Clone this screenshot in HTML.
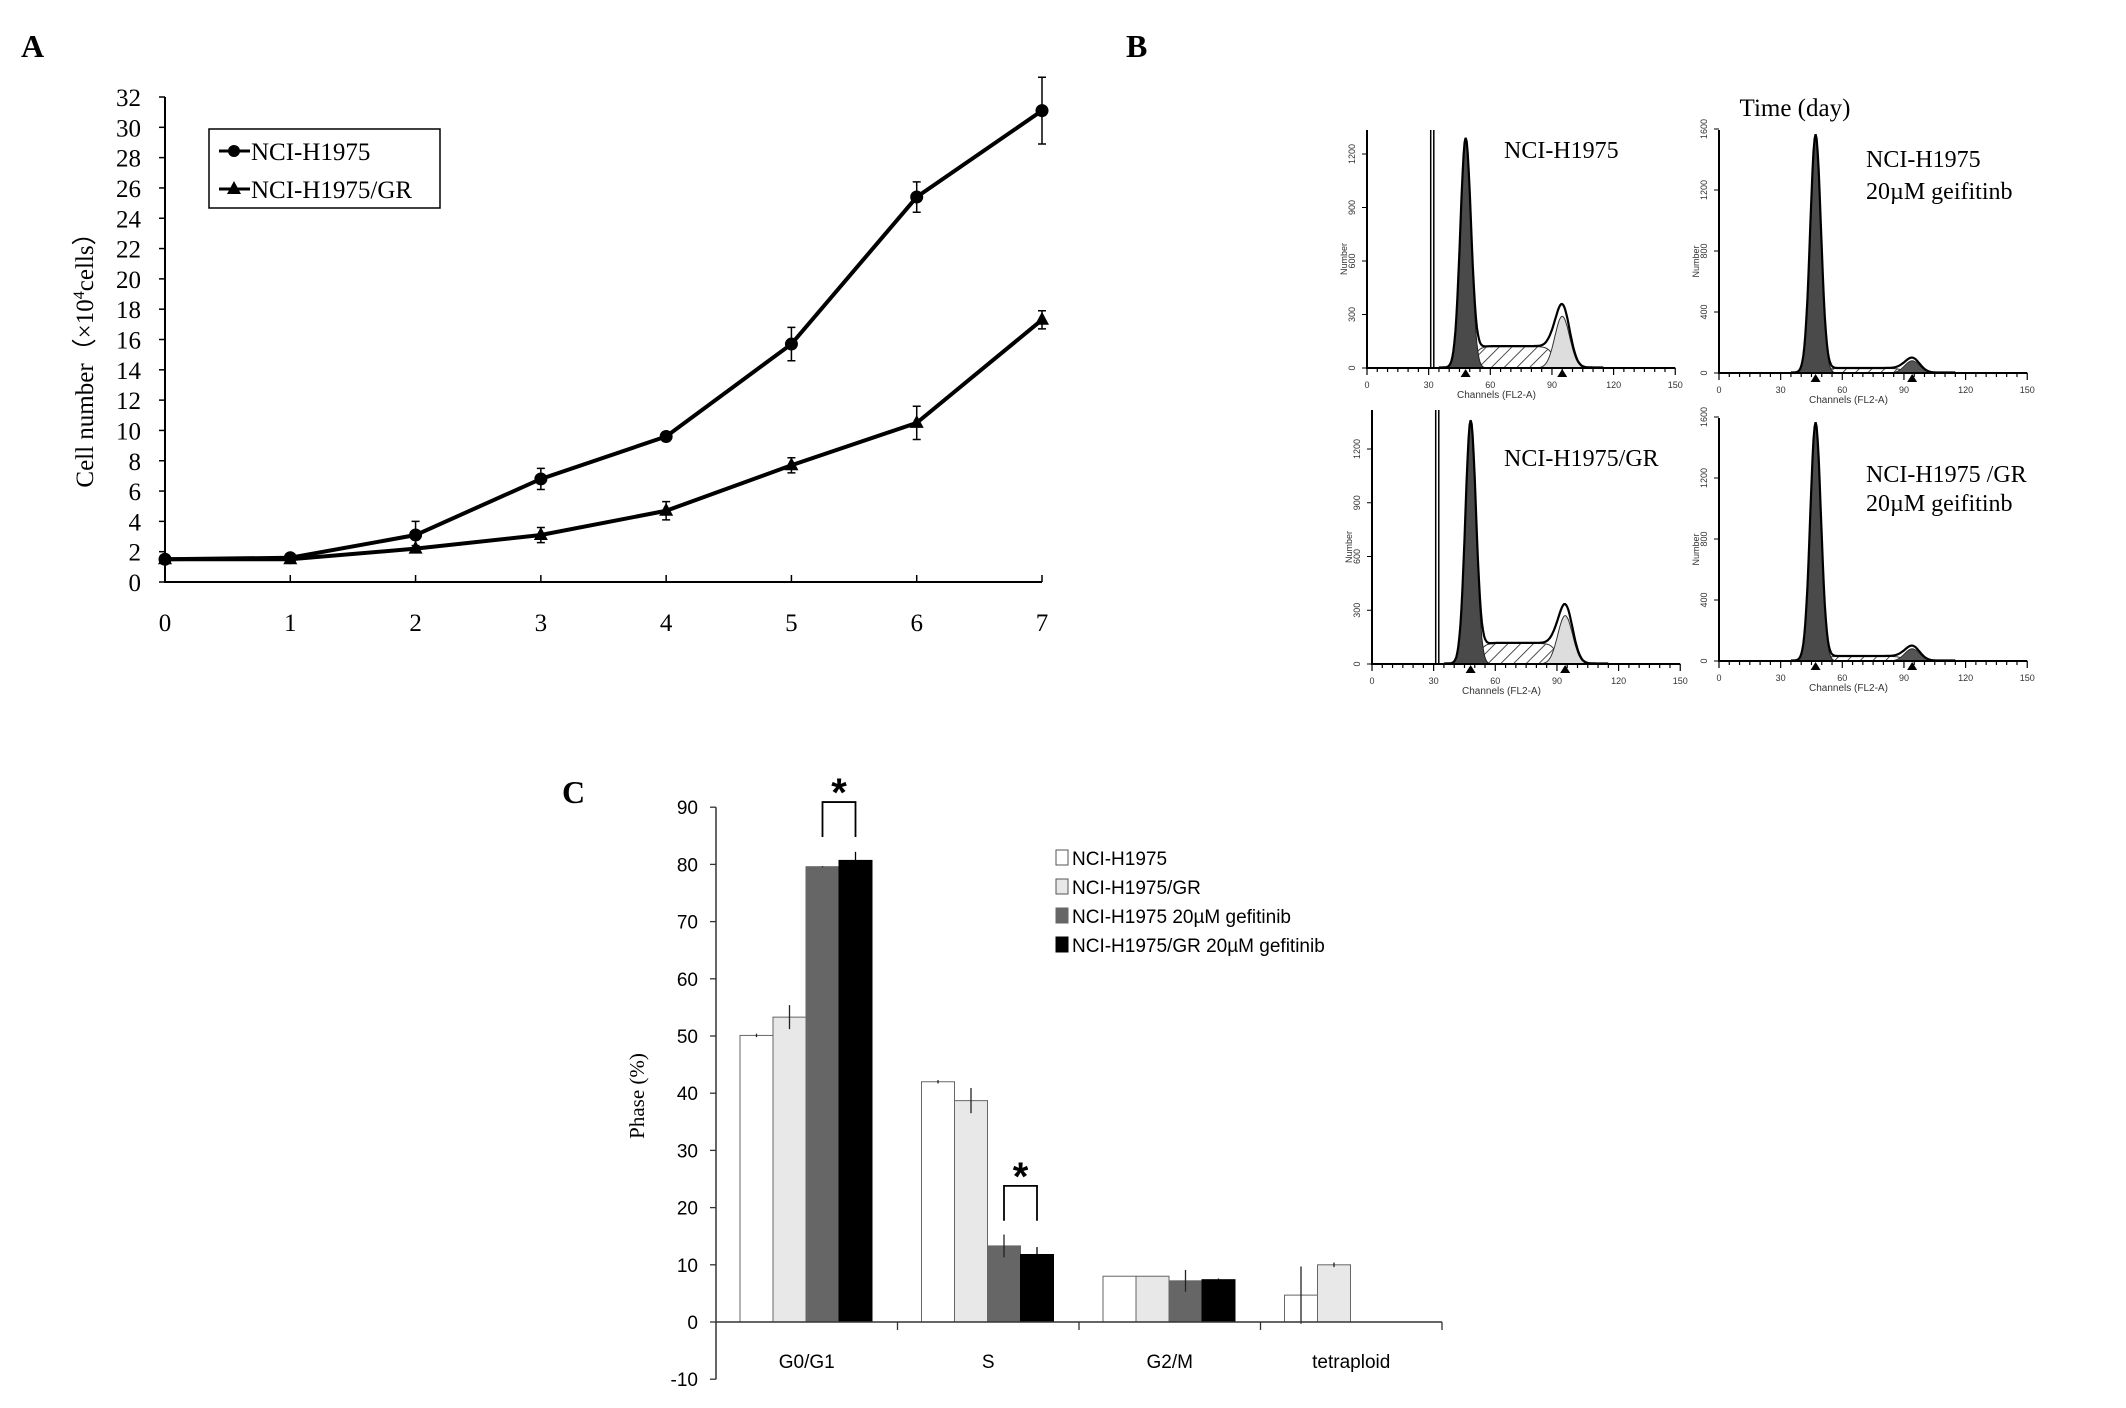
<!DOCTYPE html>
<html><head><meta charset="utf-8"><style>
html,body{margin:0;padding:0;background:#fff}
svg{display:block}
</style></head><body>
<svg id="fig" width="2126" height="1408" viewBox="0 0 2126 1408" xmlns="http://www.w3.org/2000/svg">
<defs>
<pattern id="hatch" width="9" height="9" patternUnits="userSpaceOnUse" patternTransform="rotate(45)"><rect width="9" height="9" fill="#fff"/><line x1="0" y1="0" x2="0" y2="9" stroke="#222" stroke-width="1.6"/></pattern>
</defs>
<g id="panelA"></g>
<g id="panelB"></g>
<g id="panelC"></g>
</svg>
<script>
// ---------- Panel A data ----------
const daysA = [0,1,2,3,4,5,6,7];
const h1975 = [1.5,1.6,3.1,6.8,9.6,15.7,25.4,31.1];
const h1975Err = [0.2,0.2,0.9,0.7,0.3,1.1,1.0,2.2];
const h1975GR = [1.5,1.5,2.2,3.1,4.7,7.7,10.5,17.3];
const h1975GRErr = [0.1,0.1,0.2,0.5,0.6,0.5,1.1,0.6];
const yTicksA = [0,2,4,6,8,10,12,14,16,18,20,22,24,26,28,30,32];

// ---------- Panel C data ----------
const phases = ["G0/G1","S","G2/M","tetraploid"];
const seriesNames = ["NCI-H1975","NCI-H1975/GR","NCI-H1975 20\u00b5M gefitinib","NCI-H1975/GR 20\u00b5M gefitinib"];
const valH = [50.1,42.0,8.0,4.7];
const valGR = [53.3,38.7,8.0,10.0];
const valHg = [79.6,13.3,7.2,null];
const valGRg = [80.7,11.8,7.4,null];
const errH = [0.3,0.3,0,5.0];
const errGR = [2.1,2.2,0,0.4];
const errHg = [0.1,2.0,1.9,0];
const errGRg = [1.5,1.3,0.2,0];
const yTicksC = [-10,0,10,20,30,40,50,60,70,80,90];

// ---------- Panel B data (order: top-left, top-right, bottom-left, bottom-right) ----------
const g1Mean = [48,47,48,47];
const g1Height = [1280,1560,1350,1560];
const g2Mean = [95,94,94,94];
const g2Height = [290,80,270,80];
const sLevel = [120,30,115,30];

const NS="http://www.w3.org/2000/svg";
function el(parent,tag,attrs,text){const e=document.createElementNS(NS,tag);for(const k in attrs)e.setAttribute(k,attrs[k]);if(text!==undefined)e.textContent=text;parent.appendChild(e);return e;}

// ================= Panel A =================
(function(){
const g=document.getElementById('panelA');
const X0=165,X1=1042,Y0=582,Y1=97;
const xs=d=>X0+(X1-X0)*d/7, ys=v=>Y0-(Y0-Y1)*v/32;
const serif='"Liberation Serif",serif';
let t=el(g,'text',{x:21,y:57,'font-family':serif,'font-size':32,'font-weight':'bold'},'A');


let ax=el(g,'path',{d:`M${X0},${Y1} V${Y0} H${X1}`,stroke:'#000','stroke-width':2,fill:'none'});


yTicksA.forEach(v=>{
 el(g,'line',{x1:X0-6,x2:X0,y1:ys(v),y2:ys(v),stroke:'#000','stroke-width':1.5});
 const tt=el(g,'text',{x:X0-24,y:ys(v)+9,'text-anchor':'end','font-family':serif,'font-size':25},v);
 
 
});
daysA.forEach(d=>{
 el(g,'line',{x1:xs(d),x2:xs(d),y1:Y0,y2:Y0-7,stroke:'#000','stroke-width':1.5});
 const tt=el(g,'text',{x:xs(d),y:631,'text-anchor':'middle','font-family':serif,'font-size':25},d);
 
 
});
const yt=el(g,'text',{transform:'translate(93,354) rotate(-90)','text-anchor':'middle','font-family':serif,'font-size':25},'Cell number\uFF08\u00D710');


el(yt,'tspan',{dy:-9,'font-size':16},'4');
el(yt,'tspan',{dy:9},'cells\uFF09');
function series(vals,errs,marker,name){
 const sg=el(g,'g',{});
 
 
 el(sg,'polyline',{points:vals.map((v,i)=>xs(daysA[i])+','+ys(v)).join(' '),fill:'none',stroke:'#000','stroke-width':4});
 vals.forEach((v,i)=>{
  const x=xs(daysA[i]);
  el(sg,'path',{d:`M${x},${ys(v+errs[i])} V${ys(v-errs[i])} M${x-4},${ys(v+errs[i])} h8 M${x-4},${ys(v-errs[i])} h8`,stroke:'#000','stroke-width':1.5});
  let m;
  if(marker==='circle') m=el(sg,'circle',{cx:x,cy:ys(v),r:6.5,fill:'#000'});
  else m=el(sg,'path',{d:`M${x},${ys(v)-8} L${x+7},${ys(v)+5} L${x-7},${ys(v)+5}Z`,fill:'#000'});
  
  
 });
}
series(h1975,h1975Err,'circle','series-nci-h1975');
series(h1975GR,h1975GRErr,'triangle','series-nci-h1975-gr');
const lg=el(g,'g',{});


el(lg,'rect',{x:209,y:129,width:231,height:79,fill:'#fff',stroke:'#000','stroke-width':1.5});
el(lg,'line',{x1:219,x2:250,y1:151,y2:151,stroke:'#000','stroke-width':3});
el(lg,'circle',{cx:234,cy:151,r:6,fill:'#000'});
el(lg,'text',{x:251,y:160,'font-family':serif,'font-size':25},'NCI-H1975');
el(lg,'line',{x1:219,x2:250,y1:189,y2:189,stroke:'#000','stroke-width':3});
el(lg,'path',{d:'M234,181 L241,194 L227,194Z',fill:'#000'});
el(lg,'text',{x:251,y:198,'font-family':serif,'font-size':25},'NCI-H1975/GR');
})();

// ================= Panel B =================
(function(){
const g=document.getElementById('panelB');
const serif='"Liberation Serif",serif', sans='"Liberation Sans",sans-serif';
let t=el(g,'text',{x:1126,y:57,'font-family':serif,'font-size':32,'font-weight':'bold'},'B');


t=el(g,'text',{x:1795,y:116,'text-anchor':'middle','font-family':serif,'font-size':25},'Time (day)');


const panels=[
 {x0:1367,base:368,top:130,per1200:214,ticks:[0,300,600,900,1200],gate:true,labels:['NCI-H1975'],lx:1504,ly:[158]},
 {x0:1719,base:373,top:130,per1200:183,ticks:[0,400,800,1200,1600],gate:false,labels:['NCI-H1975','20\u00b5M  geifitinb'],lx:1866,ly:[167,199]},
 {x0:1372,base:664,top:410,per1200:215,ticks:[0,300,600,900,1200],gate:true,labels:['NCI-H1975/GR'],lx:1504,ly:[466]},
 {x0:1719,base:661,top:418,per1200:183,ticks:[0,400,800,1200,1600],gate:false,labels:['NCI-H1975 /GR','20\u00b5M  geifitinb'],lx:1866,ly:[482,511]}
];
const pxCh=2.055;
panels.forEach((p,k)=>{
 const pg=el(g,'g',{});
 
 
 const xs=c=>p.x0+c*pxCh, ys=n=>p.base-n*p.per1200/1200;
 const gauss=(c,m,s)=>Math.exp(-0.5*((c-m)/s)**2);
 const sComp=c=>{const a=1/(1+Math.exp(-(c-(g1Mean[k]+4))/1.5)), b=1/(1+Math.exp((c-(g2Mean[k]-4))/1.5));return sLevel[k]*a*b;};
 const g1=c=>g1Height[k]*gauss(c,g1Mean[k],2.6);
 const g2=c=>g2Height[k]*gauss(c,g2Mean[k],3.6);
 const pathOf=(f,c0,c1)=>{let d=`M${xs(c0)},${ys(0)}`;for(let c=c0;c<=c1;c+=0.5)d+=` L${xs(c).toFixed(1)},${ys(f(c)).toFixed(1)}`;return d+` L${xs(c1)},${ys(0)}Z`;};
 el(pg,'path',{d:pathOf(sComp,g1Mean[k],g2Mean[k]),fill:'url(#hatch)',stroke:'#333','stroke-width':1});
 el(pg,'path',{d:pathOf(g2,g2Mean[k]-14,g2Mean[k]+14),fill:(k%2===0)?'#ddd':'#555',stroke:'#333','stroke-width':1});
 el(pg,'path',{d:pathOf(g1,g1Mean[k]-10,g1Mean[k]+10),fill:'#4a4a4a',stroke:'#222','stroke-width':1});
 let d='';for(let c=35;c<=115;c+=0.5){const v=g1(c)+g2(c)*1.2+sComp(c)+3;d+=(d?' L':'M')+xs(c).toFixed(1)+','+ys(v).toFixed(1);}
 el(pg,'path',{d:d,fill:'none',stroke:'#000','stroke-width':2.2});
 if(p.gate){el(pg,'line',{x1:xs(31),x2:xs(31),y1:p.top,y2:p.base,stroke:'#000','stroke-width':1.5});el(pg,'line',{x1:xs(32.5),x2:xs(32.5),y1:p.top,y2:p.base,stroke:'#000','stroke-width':1.5});}
 el(pg,'path',{d:`M${p.x0},${p.top} V${p.base} H${xs(150)}`,stroke:'#000','stroke-width':2,fill:'none'});
 for(let c=0;c<=150;c+=5){el(pg,'line',{x1:xs(c),x2:xs(c),y1:p.base,y2:p.base+(c%30===0?7:4),stroke:'#000','stroke-width':1.2});}
 [0,30,60,90,120,150].forEach(c=>{const tt=el(pg,'text',{x:xs(c),y:p.base+20,'text-anchor':'middle','font-family':sans,'font-size':9,fill:'#333'},c);});
 el(pg,'text',{x:xs(63),y:p.base+30,'text-anchor':'middle','font-family':sans,'font-size':10,fill:'#333'},'Channels (FL2-A)');
 p.ticks.forEach(n=>{ if(ys(n)<p.top-2) return; el(pg,'line',{x1:p.x0-5,x2:p.x0,y1:ys(n),y2:ys(n),stroke:'#000'});
  el(pg,'text',{transform:`translate(${p.x0-12},${ys(n)}) rotate(-90)`,'text-anchor':'middle','font-family':sans,'font-size':9,fill:'#333'},n);});
 el(pg,'text',{transform:`translate(${p.x0-20},${(p.top+p.base)/2+10}) rotate(-90)`,'text-anchor':'middle','font-family':sans,'font-size':9,fill:'#333'},'Number');
 [g1Mean[k],g2Mean[k]].forEach(c=>el(pg,'path',{d:`M${xs(c)},${p.base+1} l5,8 h-10Z`,fill:'#000'}));
 p.labels.forEach((s,i)=>{const tt=el(pg,'text',{x:p.lx,y:p.ly[i],'font-family':serif,'font-size':24},s);});
});
})();

// ================= Panel C =================
(function(){
const g=document.getElementById('panelC');
const serif='"Liberation Serif",serif', sans='"Liberation Sans",sans-serif';
const X0=716,X1=1442,Y0=1322,per10=57.2;
const ys=v=>Y0-v*per10/10;
const gw=(X1-X0)/4, bw=33, off=24;
const bx=(gi,si)=>X0+gi*gw+off+si*bw;
let t=el(g,'text',{x:562,y:803,'font-family':serif,'font-size':32,'font-weight':'bold'},'C');


const vals=[valH,valGR,valHg,valGRg], errs=[errH,errGR,errHg,errGRg];
const fills=['#fff','#e8e8e8','#666','#000'];
vals.forEach((arr,si)=>arr.forEach((v,gi)=>{
 if(v===null) return;
 const r=el(g,'rect',{x:bx(gi,si),y:ys(v),width:bw,height:Y0-ys(v),fill:fills[si],stroke:si<2?'#666':fills[si],'stroke-width':1});
 
 
 const e=errs[si][gi];
 if(e>0){const cx=bx(gi,si)+bw/2;el(g,'path',{d:`M${cx},${ys(v+e)} V${ys(v-e)}`,stroke:si===3?'#000':'#222','stroke-width':1.3});}
}));
let ax=el(g,'path',{d:`M${X0},${ys(90)} V${ys(-10)} M${X0},${Y0} H${X1}`,stroke:'#333','stroke-width':1.5,fill:'none'});


yTicksC.forEach(v=>{
 el(g,'line',{x1:X0-6,x2:X0,y1:ys(v),y2:ys(v),stroke:'#333','stroke-width':1.3});
 const tt=el(g,'text',{x:X0-18,y:ys(v)+7,'text-anchor':'end','font-family':sans,'font-size':19},v);
 
 
});
for(let i=1;i<=4;i++) el(g,'line',{x1:X0+i*gw,x2:X0+i*gw,y1:Y0,y2:Y0+8,stroke:'#333','stroke-width':1.3});
phases.forEach((p,i)=>{
 const tt=el(g,'text',{x:X0+(i+0.5)*gw,y:1368,'text-anchor':'middle','font-family':sans,'font-size':19},p);
 
 
});
const yt=el(g,'text',{transform:'translate(644,1096) rotate(-90)','text-anchor':'middle','font-family':serif,'font-size':21},'Phase (%)');


function bracket(gi,top,bot,name){
 const a=bx(gi,2)+bw/2,b=bx(gi,3)+bw/2;
 const bg=el(g,'g',{});
 
 
 el(bg,'path',{d:`M${a},${ys(bot)} V${ys(top)} H${b} V${ys(bot)}`,fill:'none',stroke:'#000','stroke-width':1.8});
 el(bg,'text',{x:(a+b)/2,y:ys(top)+4,'text-anchor':'middle','font-family':sans,'font-size':40,'font-weight':'bold'},'*');
}
bracket(0,90.9,84.8,'significance-g0g1');
bracket(1,23.8,17.7,'significance-s');
const lg=el(g,'g',{});


const ly=[858,887,916,945];
seriesNames.forEach((s,i)=>{
 el(lg,'rect',{x:1056,y:ly[i]-8,width:12,height:15,fill:fills[i],stroke:i<2?'#555':fills[i]});
 const tt=el(lg,'text',{x:1072,y:ly[i]+7,'font-family':sans,'font-size':19},s);
 
 
});
})();
</script>
</body></html>
